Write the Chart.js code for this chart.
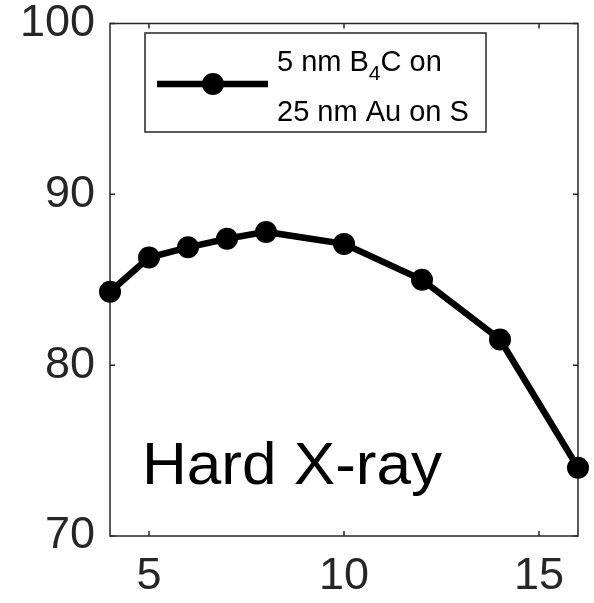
<!DOCTYPE html>
<html>
<head>
<meta charset="utf-8">
<script src="https://cdn.jsdelivr.net/npm/chart.js@4"></script>
<style>
  html, body { margin: 0; padding: 0; background: #fff; }
  #wrap { width: 594px; height: 603px; }
</style>
</head>
<body>
<div id="wrap"><canvas id="chart" width="594" height="603"></canvas></div>
<script>
// values
const energies = [4, 5, 6, 7, 8, 10, 12, 14, 16];
const reflectivity = [84.3, 86.3, 86.9, 87.4, 87.8, 87.1, 85.0, 81.5, 74.0];
const xTicks = [5, 10, 15];
const yTicks = [70, 80, 90, 100];
const legendLine1 = ['5 nm B', '4', 'C on'];
const legendLine2 = '25 nm Au on S';
const panelLabel = 'Hard X-ray';

const axisColor = '#262626';
const FONT = 'Arial, "Liberation Sans", Helvetica, sans-serif';

// box around the axes plus MATLAB-style inward ticks on all four sides
const boxPlugin = {
    id: 'box',
    beforeDatasetsDraw(chart) {
        const { ctx, chartArea: a, scales } = chart;
        ctx.save();
        ctx.strokeStyle = axisColor;
        ctx.lineWidth = 1.5;
        ctx.strokeRect(a.left, a.top, a.right - a.left, a.bottom - a.top);
        const len = 5;
        ctx.beginPath();
        xTicks.forEach(v => {
            const px = scales.x.getPixelForValue(v);
            ctx.moveTo(px, a.bottom); ctx.lineTo(px, a.bottom - len);
            ctx.moveTo(px, a.top); ctx.lineTo(px, a.top + len);
        });
        yTicks.forEach(v => {
            const py = scales.y.getPixelForValue(v);
            ctx.moveTo(a.left, py); ctx.lineTo(a.left + len, py);
            ctx.moveTo(a.right, py); ctx.lineTo(a.right - len, py);
        });
        ctx.stroke();
        ctx.restore();
    },
    afterDatasetsDraw(chart) {
        const { ctx, chartArea: a } = chart;
        ctx.save();
        // legend box
        const bx = a.left + 35, by = a.top + 9.5, bw = 341, bh = 99;
        ctx.fillStyle = '#fff';
        ctx.fillRect(bx, by, bw, bh);
        ctx.strokeStyle = axisColor;
        ctx.lineWidth = 1.5;
        ctx.strokeRect(bx, by, bw, bh);

        const ly = by + 51;
        ctx.strokeStyle = '#000';
        ctx.lineWidth = 6.5;
        ctx.beginPath();
        ctx.moveTo(bx + 12, ly);
        ctx.lineTo(bx + 123, ly);
        ctx.stroke();
        ctx.fillStyle = '#000';
        ctx.beginPath();
        ctx.arc(bx + 68, ly, 11, 0, Math.PI * 2);
        ctx.fill();

        // legend text with subscript
        ctx.fillStyle = '#000';
        ctx.textBaseline = 'alphabetic';
        ctx.textAlign = 'left';
        let tx = bx + 132;
        ctx.font = '29px ' + FONT;
        ctx.fillText(legendLine1[0], tx, by + 38);
        tx += ctx.measureText(legendLine1[0]).width;
        ctx.font = '21px ' + FONT;
        ctx.fillText(legendLine1[1], tx, by + 47);
        tx += ctx.measureText(legendLine1[1]).width;
        ctx.font = '29px ' + FONT;
        ctx.fillText(legendLine1[2], tx, by + 38);
        ctx.fillText(legendLine2, bx + 132, by + 88);

        // panel label, a touch wider than Liberation Sans to match the original
        ctx.font = '59px ' + FONT;
        const w = ctx.measureText(panelLabel).width;
        const sx = 300 / w;
        ctx.translate(a.left + 32, a.bottom - 52);
        ctx.scale(sx, 1);
        ctx.fillText(panelLabel, 0, 0);
        ctx.restore();
    }
};

const noPad = s => { s.paddingTop = 0; s.paddingBottom = 0; s.paddingLeft = 0; s.paddingRight = 0; };

const ctx = document.getElementById('chart').getContext('2d');
new Chart(ctx, {
    type: 'line',
    data: {
        datasets: [{
            data: energies.map((e, i) => ({ x: e, y: reflectivity[i] })),
            borderColor: '#000',
            backgroundColor: '#000',
            borderWidth: 6.5,
            pointRadius: 11,
            pointBackgroundColor: '#000',
            pointBorderWidth: 0,
            tension: 0,
            clip: false
        }]
    },
    options: {
        responsive: false,
        animation: false,
        events: [],
        layout: { padding: { top: 23.5, right: 16, bottom: 0, left: 0 } },
        plugins: { legend: { display: false }, tooltip: { enabled: false } },
        scales: {
            x: {
                type: 'linear',
                min: 4,
                max: 16,
                afterBuildTicks: s => { s.ticks = xTicks.map(v => ({ value: v })); },
                afterFit: s => { s.height = 67; noPad(s); },
                grid: { display: false, drawTicks: false },
                border: { display: false },
                ticks: { color: axisColor, font: { family: FONT, size: 45 }, padding: 14 }
            },
            y: {
                min: 70,
                max: 100,
                afterBuildTicks: s => { s.ticks = yTicks.map(v => ({ value: v })); },
                afterFit: s => { s.width = 110; noPad(s); },
                grid: { display: false, drawTicks: false },
                border: { display: false },
                ticks: { color: axisColor, font: { family: FONT, size: 45 }, padding: 15 }
            }
        }
    },
    plugins: [boxPlugin]
});
</script>
</body>
</html>
